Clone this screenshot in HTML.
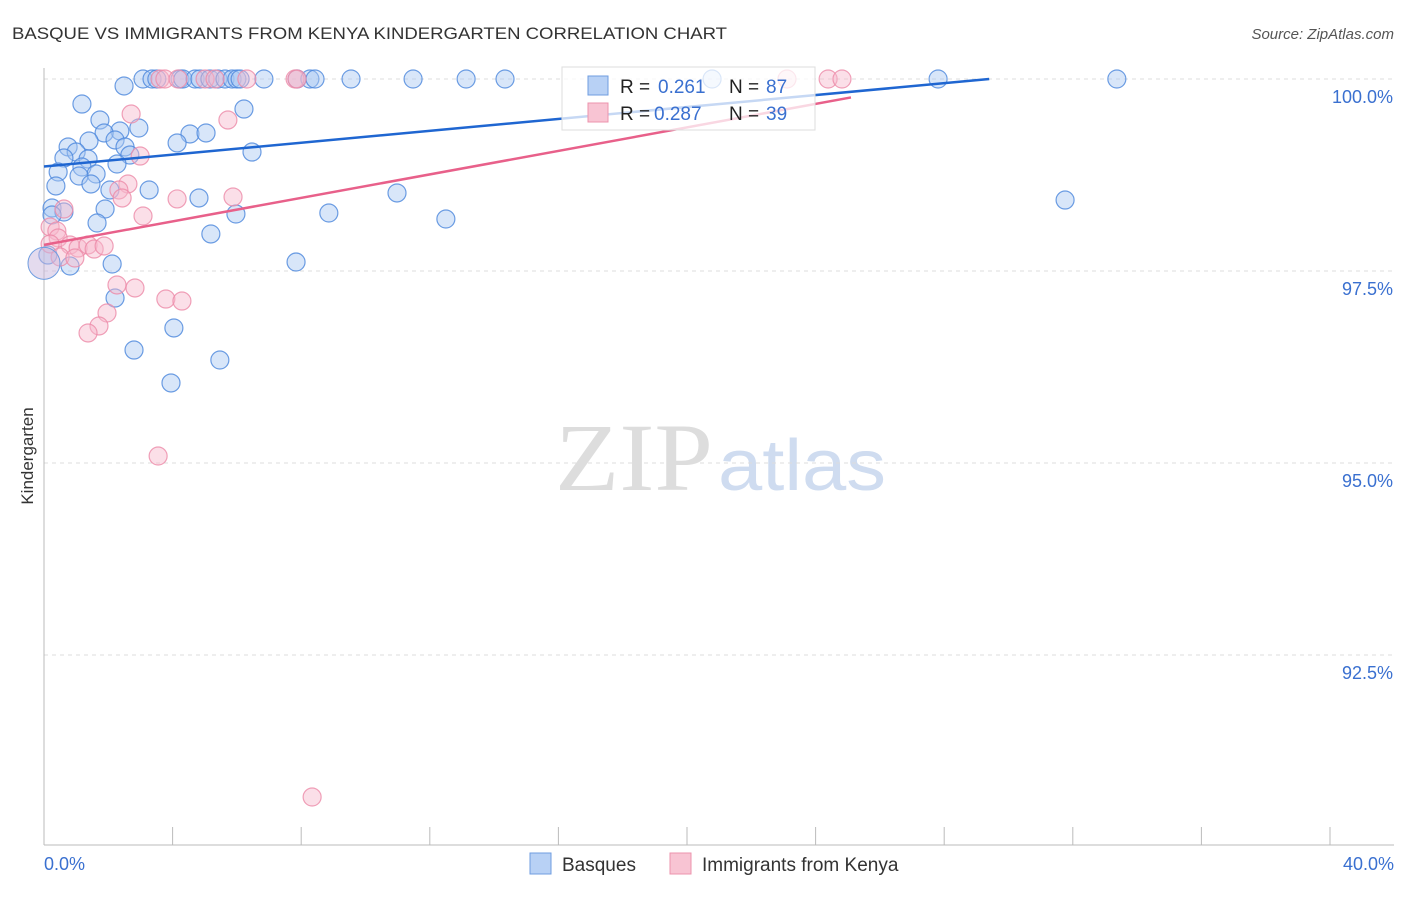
<!DOCTYPE html>
<html><head><meta charset="utf-8"><style>
body{margin:0;background:#fff;font-family:"Liberation Sans",sans-serif}
</style></head><body>
<svg id="c" width="1406" height="892" style="font-family:'Liberation Sans',sans-serif">
<text x="12" y="39" font-size="17" fill="#333" textLength="715" lengthAdjust="spacingAndGlyphs">BASQUE VS IMMIGRANTS FROM KENYA KINDERGARTEN CORRELATION CHART</text>
<text x="1394" y="39" font-size="15" fill="#555" text-anchor="end" font-style="italic">Source: ZipAtlas.com</text>
<text x="555" y="490" font-size="96" fill="#ddd" textLength="158" lengthAdjust="spacingAndGlyphs" style="font-family:'Liberation Serif',serif">ZIP</text>
<text x="718" y="490" font-size="72" fill="#cfdcf0" textLength="168" lengthAdjust="spacingAndGlyphs">atlas</text>
<text x="33" y="456" font-size="17" fill="#333" transform="rotate(-90 33 456)" text-anchor="middle">Kindergarten</text>
<g id="grid"></g><g id="pts"></g><g id="lines"></g>
<g>
<rect x="562" y="67" width="253" height="63" fill="#fff" fill-opacity="0.75" stroke="#ddd"/>
<rect x="588" y="76" width="20" height="19" fill="#b8d1f5" stroke="#6f9de0"/>
<rect x="588" y="103" width="20" height="19" fill="#f8c4d3" stroke="#ec93ad"/>
<text y="93" font-size="19" fill="#222"><tspan x="620">R =</tspan><tspan x="658" fill="#3a70d0">0.261</tspan><tspan x="729">N =</tspan><tspan x="766" fill="#3a70d0">87</tspan></text>
<text y="120" font-size="19" fill="#222"><tspan x="620">R =</tspan><tspan x="654" fill="#3a70d0">0.287</tspan><tspan x="729">N =</tspan><tspan x="766" fill="#3a70d0">39</tspan></text>
</g>
<g>
<rect x="530" y="853" width="21" height="21" fill="#b8d1f5" stroke="#6f9de0"/>
<text x="562" y="871" font-size="19" fill="#333">Basques</text>
<rect x="670" y="853" width="21" height="21" fill="#f8c4d3" stroke="#ec93ad"/>
<text x="702" y="871" font-size="19" fill="#333">Immigrants from Kenya</text>
</g>
</svg>
<script>
const yTicks=[100,97.5,95,92.5];
const yTickLabels=["100.0%","97.5%","95.0%","92.5%"];
const xEnds=["0.0%","40.0%"];
function px(x){return 44+(x-0)/40*1286;}
function py(y){return 79+(100-y)/2.5*192;}
function ix(p){return (p-44)/1286*40;}
function iy(p){return 100-(p-79)/192*2.5;}
const bluePx=[[143,79],[152,79],[157,79],[180,79],[183,79],[195,79],[200,79],[210,79],[218,79],[225,79],[232,79],[237,79],[240,79],[264,79],[297,79],[310,79],[315,79],[351,79],[413,79],[466,79],[505,79],[712,79],[938,79],[1117,79],
[124,86],[82,104],[244,109],[100,120],[139,128],[120,131],[104,133],[190,134],[206,133],[89,141],[177,143],[68,147],[115,140],[76,152],[125,147],[130,155],[64,158],[88,159],[252,152],[117,164],[58,172],[82,167],[96,174],[79,176],[91,184],[56,186],[149,190],[110,190],[397,193],[199,198],[1065,200],[52,208],[105,209],[329,213],[236,214],[64,212],[446,219],[97,223],[211,234],[70,266],[112,264],[296,262],[115,298],[174,328],[134,350],[220,360],[171,383],[52,215],[48,255]];
const pinkPx=[[160,79],[165,79],[178,79],[205,79],[215,79],[247,79],[295,79],[297,79],[787,79],[828,79],[842,79],
[131,114],[228,120],[140,156],[128,184],[119,190],[122,198],[177,199],[233,197],[143,216],[64,209],[50,227],[57,231],[58,238],[50,244],[70,245],[78,248],[88,245],[94,249],[104,246],[60,257],[75,258],[117,285],[135,288],[166,299],[182,301],[107,313],[99,326],[88,333],[158,456],[312,797]];
const blueX=bluePx.map(p=>+ix(p[0]).toFixed(2)), blueY=bluePx.map(p=>+iy(p[1]).toFixed(3));
const pinkX=pinkPx.map(p=>+ix(p[0]).toFixed(2)), pinkY=pinkPx.map(p=>+iy(p[1]).toFixed(3));
const blueTrend=[[0,98.86],[29.4,100]];
const pinkTrend=[[0,97.84],[25.1,99.76]];
const NS="http://www.w3.org/2000/svg";
function mk(t,a,parent){const e=document.createElementNS(NS,t);for(const k in a)e.setAttribute(k,a[k]);document.getElementById(parent).appendChild(e);return e;}
yTicks.forEach((v,i)=>{
 const l=mk('line',{x1:44,x2:1394,y1:py(v),y2:py(v),stroke:'#ddd','stroke-dasharray':'4,4'},'grid');
 
 
 const t=mk('text',{x:1393,y:py(v)+24,'font-size':18,fill:'#3a70d0','text-anchor':'end'},'grid');
 t.textContent=yTickLabels[i];
 
 
});
const ax=mk('line',{x1:44,x2:44,y1:68,y2:845,stroke:'#bbb'},'grid');


const bx=mk('line',{x1:44,x2:1394,y1:845,y2:845,stroke:'#bbb'},'grid');


for(let i=0;i<=10;i++){const t=mk('line',{x1:px(i*4),x2:px(i*4),y1:827,y2:845,stroke:'#bbb'},'grid');
 
 }
[[0,'start',44],[40,'end',1394]].forEach((d,i)=>{const t=mk('text',{x:d[2],y:870,'font-size':18,fill:'#3a70d0','text-anchor':d[1]},'grid');t.textContent=xEnds[i];
 
 });
function dots(X,Y,fill,stroke,name){X.forEach((x,i)=>{const c=mk('circle',{cx:px(x),cy:py(Y[i]),r:9,fill:fill,'fill-opacity':0.45,stroke:stroke,'stroke-width':1.2,'stroke-opacity':0.8},'pts');
 
 });}
dots(blueX,blueY,'#a9c7f2','#4a86dc','basques-point');
dots(pinkX,pinkY,'#f7b9cb','#ec8aa8','kenya-point');
const big=mk('circle',{cx:px(0),cy:py(97.6),r:16,fill:'#c9b8dd','fill-opacity':0.5,stroke:'#6f9de0'},'pts');


const bl=mk('line',{x1:px(blueTrend[0][0]),y1:py(blueTrend[0][1]),x2:px(blueTrend[1][0]),y2:py(blueTrend[1][1]),stroke:'#1f66d1','stroke-width':2.5},'lines');


const pl=mk('line',{x1:px(pinkTrend[0][0]),y1:py(pinkTrend[0][1]),x2:px(pinkTrend[1][0]),y2:py(pinkTrend[1][1]),stroke:'#e8608a','stroke-width':2.5},'lines');


</script>
</body></html>
